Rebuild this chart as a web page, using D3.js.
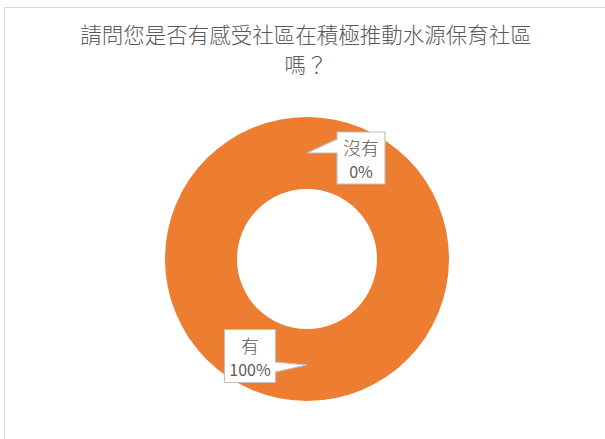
<!DOCTYPE html>
<html><head><meta charset="utf-8">
<script src="https://cdn.jsdelivr.net/npm/d3@7"></script>
<style>
html,body{margin:0;padding:0;background:#fff;}
svg{display:block;}
</style></head>
<body>
<svg id="chart" width="605" height="439"></svg>
<script>
const titleLines = ["請問您是否有感受社區在積極推動水源保育社區", "嗎？"];
const categories = ["有", "沒有"];
const values = [100, 0];
const percentLabels = ["100%", "0%"];

const W = 605, H = 439;
const svg = d3.select("#chart");
const font = "'Noto Sans CJK TC','Microsoft JhengHei',sans-serif";

// chart frame
svg.append("rect").attr("x", 4.5).attr("y", 7.5).attr("width", 640).attr("height", 460)
  .attr("fill", "#fff").attr("stroke", "#d9d9d9").attr("stroke-width", 1);

// title
svg.append("g").selectAll("text").data(titleLines).join("text")
  .attr("x", 306).attr("y", (d, i) => 33 + i * 30)
  .attr("text-anchor", "middle").attr("dominant-baseline", "central")
  .attr("font-family", font).attr("font-size", 21.5).attr("font-weight", 300).attr("fill", "#595959")
  .text(d => d);

const cx = 307, cy = 259, rOuter = 142, rInner = 70;
const data = categories.map((c, i) => ({ cat: c, value: values[i], label: percentLabels[i] }));
const pie = d3.pie().value(d => d.value).sort(null);
const arcs = pie(data);
const arc = d3.arc().innerRadius(rInner).outerRadius(rOuter);
const color = d3.scaleOrdinal().domain(categories).range(["#ED7D31", "#A5A5A5"]);

const g = svg.append("g").attr("transform", `translate(${cx},${cy})`);
g.selectAll("path.slice").data(arcs).join("path").attr("class", "slice")
  .attr("d", arc).attr("fill", d => color(d.data.cat));

// callout layouts (offset of box centre from slice centroid, box size, side of pointer)
const callouts = {
  "有": { dx: -57, dy: -9, w: 51, h: 53, side: "right" },
  "沒有": { dx: 54, dy: 5, w: 48, h: 52, side: "left" }
};

arcs.forEach(a => {
  const [px, py] = arc.centroid(a);
  const c = callouts[a.data.cat];
  const bx = px + c.dx - c.w / 2, by = py + c.dy - c.h / 2;
  let p;
  if (c.side === "right") {
    const x2 = bx + c.w;
    p = `M${bx},${by}H${x2}V${py - 3}L${px},${py}L${x2},${py + 7}V${by + c.h}H${bx}Z`;
  } else {
    p = `M${bx},${by}H${bx + c.w}V${by + c.h}H${bx}V${py}L${px},${py}L${bx},${py - 14}Z`;
  }
  g.append("path").attr("d", p).attr("fill", "#fff").attr("stroke", "#bfbfbf").attr("stroke-width", 1.2);
  const tx = bx + c.w / 2;
  g.append("text").attr("x", tx).attr("y", by + 15).attr("text-anchor", "middle")
    .attr("dominant-baseline", "central").attr("font-family", font).attr("font-size", 18)
    .attr("font-weight", 300).attr("fill", "#595959").text(a.data.cat);
  g.append("text").attr("x", tx).attr("y", by + 39).attr("text-anchor", "middle")
    .attr("dominant-baseline", "central").attr("font-family", font).attr("font-size", 16)
    .attr("fill", "#595959").text(a.data.label);
});
</script>
</body></html>
